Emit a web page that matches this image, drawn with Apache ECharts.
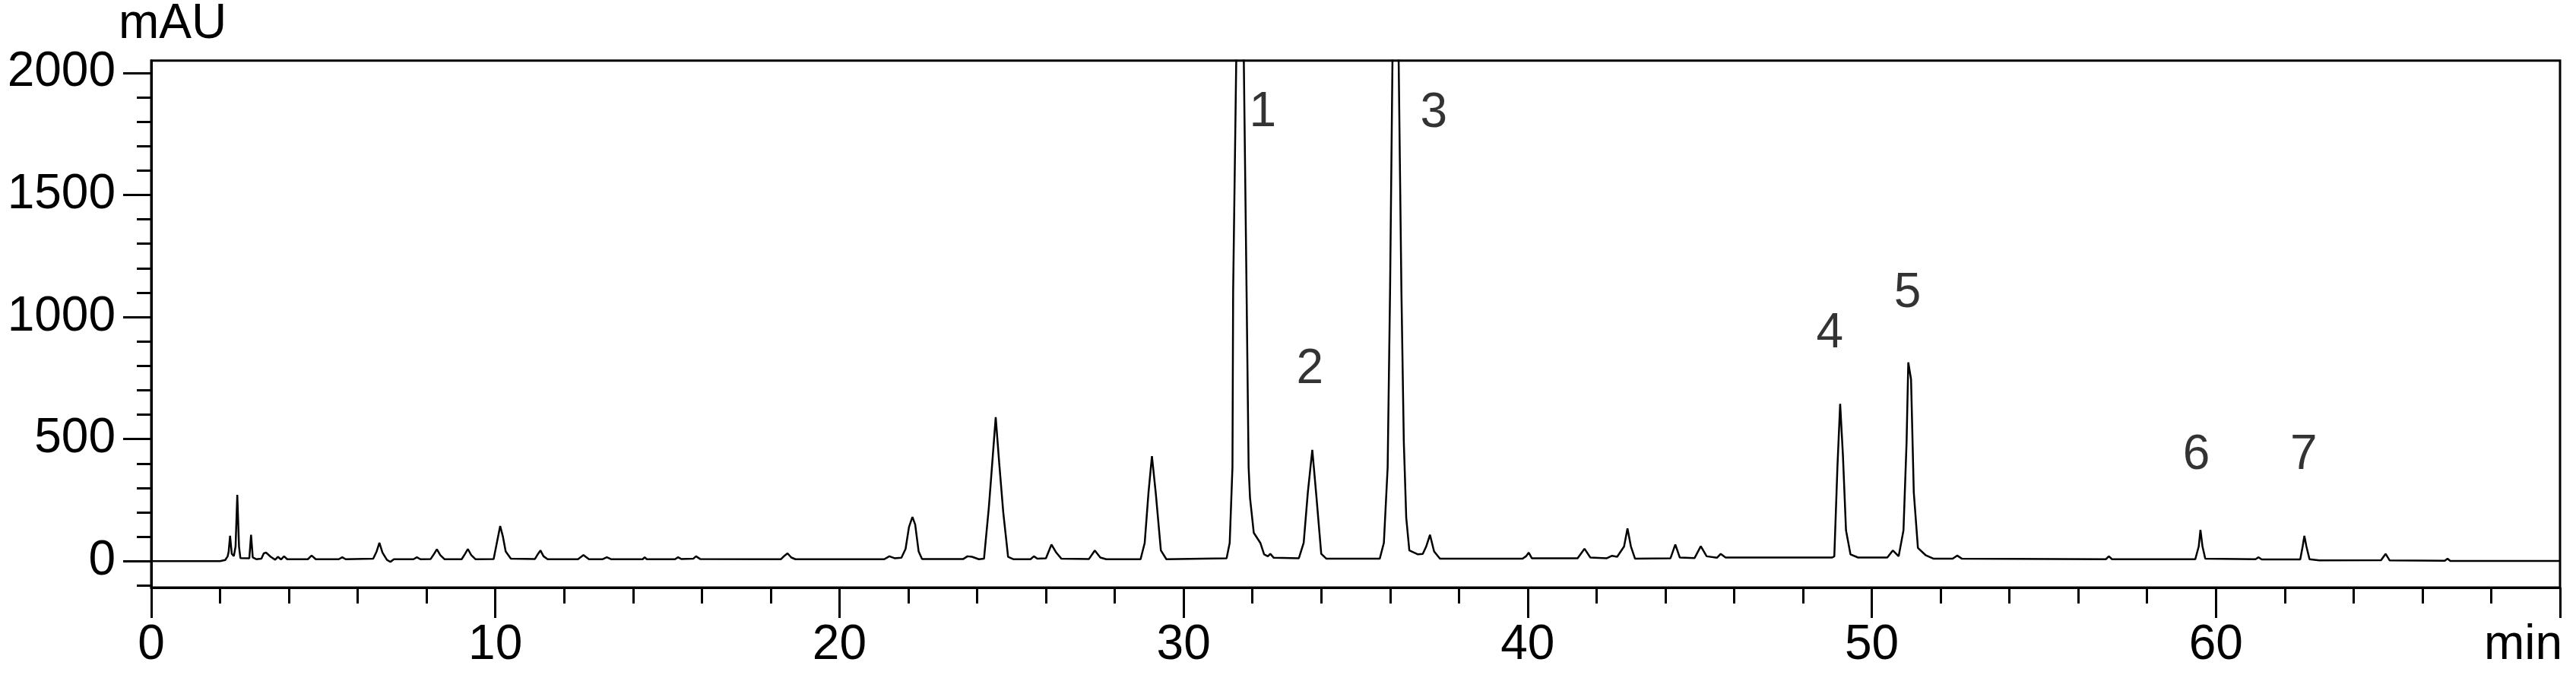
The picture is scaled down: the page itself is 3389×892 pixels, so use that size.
<!DOCTYPE html>
<html>
<head>
<meta charset="utf-8">
<script src="https://cdn.jsdelivr.net/npm/echarts@6/dist/echarts.min.js"></script>
<style>
html,body{margin:0;padding:0;background:#fff;}
#chart{width:3389px;height:892px;}
</style>
</head>
<body>
<div id="chart"></div>
<script>
// Retention time (min) and detector response (mAU)
const retentionTime = [
  0, 2.0, 2.15, 2.22, 2.25, 2.29, 2.34, 2.40, 2.45, 2.50, 2.55, 2.59, 2.85, 2.90, 2.95, 3.05,
  3.20, 3.27, 3.34, 3.47, 3.60, 3.68, 3.77, 3.86, 3.95, 4.55, 4.66, 4.78, 5.45, 5.55, 5.65,
  6.45, 6.55, 6.63, 6.72, 6.85, 6.95, 7.05, 7.62, 7.72, 7.82, 8.12, 8.22, 8.30, 8.40, 8.52,
  9.02, 9.12, 9.20, 9.30, 9.42, 9.95, 10.05, 10.14, 10.22, 10.30, 10.45, 11.15, 11.24, 11.31,
  11.40, 11.52, 12.40, 12.56, 12.72, 13.12, 13.24, 13.36, 14.28, 14.34, 14.40, 15.22, 15.31,
  15.40, 15.75, 15.83, 15.95, 18.30, 18.40, 18.49, 18.60, 18.72, 21.30, 21.45, 21.60, 21.80,
  21.92, 22.02, 22.12, 22.20, 22.30, 22.40, 23.60, 23.72, 23.85, 24.05, 24.20, 24.34, 24.43,
  24.54, 24.64, 24.76, 24.90, 25.05, 25.55, 25.65, 25.75, 26.00, 26.16, 26.30, 26.45, 27.25,
  27.42, 27.58, 27.75, 28.75, 28.87, 28.98, 29.08, 29.19, 29.34, 29.50, 31.25, 31.34, 31.42,
  31.44, 31.53, 31.64, 31.75, 31.83, 31.89, 31.93, 32.04, 32.23, 32.34, 32.45, 32.52, 32.62,
  33.35, 33.49, 33.61, 33.74, 33.85, 34.00, 34.15, 35.70, 35.82, 35.93, 36.00, 36.07, 36.16,
  36.25, 36.33, 36.40, 36.47, 36.56, 36.81, 36.95, 37.05, 37.16, 37.28, 37.45, 39.85, 39.95,
  40.03, 40.12, 41.45, 41.65, 41.82, 42.30, 42.45, 42.60, 42.80, 42.90, 43.00, 43.12, 44.15,
  44.29, 44.42, 44.85, 45.03, 45.20, 45.50, 45.61, 45.75, 48.85, 48.91, 49.00, 49.08, 49.16,
  49.25, 49.38, 49.60, 50.45, 50.61, 50.78, 50.92, 51.01, 51.06, 51.14, 51.22, 51.34, 51.56,
  51.80, 52.35, 52.48, 52.62, 56.80, 56.89, 56.98, 59.40, 59.50, 59.55, 59.61, 59.69, 61.15,
  61.24, 61.33, 62.45, 62.52, 62.57, 62.63, 62.72, 63.00, 64.80, 64.93, 65.05, 66.65, 66.73,
  66.81, 70
];
const absorbance = [
  0, 0, 5, 20, 40, 104, 30, 21, 60, 272, 60, 13, 12, 108, 15, 8,
  10, 32, 35, 18, 6, 18, 7, 20, 8, 8, 23, 8, 8, 16, 8,
  10, 40, 75, 35, 5, -3, 8, 8, 16, 8, 9, 30, 49, 25, 8,
  8, 30, 50, 25, 8, 9, 80, 144, 100, 40, 10, 9, 30, 44,
  20, 8, 8, 25, 8, 8, 16, 8, 8, 16, 8, 8, 16,
  9, 10, 20, 9, 8, 22, 32, 15, 8, 8, 20, 12, 14,
  50, 140, 181, 150, 40, 9, 9, 20, 18, 8, 10, 219, 384,
  590, 405, 199, 18, 8, 8, 20, 10, 12, 68, 35, 10, 9,
  44, 15, 8, 8, 75, 281, 430, 281, 44, 8, 12, 75, 385,
  1106, 2050, 3600, 2050, 1106, 384, 260, 116, 75, 28, 20, 30, 14,
  12, 75, 281, 456, 281, 30, 10, 10, 75, 384, 1106, 2050, 3600,
  2050, 1106, 487, 178, 44, 28, 30, 60, 108, 40, 10, 10, 20,
  35, 12, 12, 51, 15, 12, 22, 18, 60, 134, 60, 10, 12,
  68, 15, 13, 61, 20, 14, 30, 15, 15, 20, 384, 644, 435,
  126, 28, 15, 15, 44, 20, 126, 487, 814, 745, 281, 54, 25,
  10, 10, 23, 10, 8, 20, 8, 8, 60, 128, 60, 10, 8,
  16, 7, 7, 60, 104, 60, 8, 3, 4, 30, 3, 2, 10,
  1, 1
];

// Peak annotations
const peakLabelText = ['1', '2', '3', '4', '5', '6', '7'];
const peakLabelTime = [32.30, 33.67, 37.27, 48.78, 51.04, 59.43, 62.55];
const peakLabelMAU  = [1836, 784, 1834, 932, 1094, 433, 433];

// Axis ticks
const yLabelTicks = [0, 500, 1000, 1500, 2000];
const yMinorTicks = [-100, 100, 200, 300, 400, 600, 700, 800, 900, 1100, 1200, 1300, 1400,
                     1600, 1700, 1800, 1900];
const xMin = 0, xMax = 70, xMajorStep = 10, xMinorStep = 2;
const yMin = -108, yMax = 2050;

const FONT = 'Liberation Sans, Arial, sans-serif';
const lineData = retentionTime.map((t, i) => [t, absorbance[i]]);
const labelData = peakLabelTime.map((t, i) => ({ value: [t, peakLabelMAU[i]], name: peakLabelText[i] }));

const chart = echarts.init(document.getElementById('chart'), null, { renderer: 'canvas' });
chart.setOption({
  animation: false,
  backgroundColor: '#ffffff',
  grid: {
    left: 199, right: 21, top: 75, bottom: 119,
    show: true, borderColor: '#000', borderWidth: 3, backgroundColor: 'transparent'
  },
  xAxis: [
    {
      type: 'value', min: xMin, max: xMax, interval: xMajorStep, position: 'bottom',
      axisLine: { show: true, onZero: false, lineStyle: { color: '#000', width: 3 } },
      axisTick: { show: true, inside: false, length: 40, lineStyle: { color: '#000', width: 3 } },
      axisLabel: {
        show: true, margin: 44, color: '#000', fontFamily: FONT, fontSize: 64, lineHeight: 64,
        formatter: v => (v === xMax ? '' : String(v))
      },
      splitLine: { show: false },
      name: 'min', nameLocation: 'end', nameGap: 3,
      nameTextStyle: { color: '#000', fontFamily: FONT, fontSize: 64, lineHeight: 64,
        align: 'right', verticalAlign: 'top', padding: [44, 0, 0, 0] }
    },
    {
      type: 'value', min: xMin, max: xMax, interval: xMinorStep, position: 'bottom',
      axisLine: { show: false, onZero: false },
      axisTick: { show: true, inside: false, length: 21, lineStyle: { color: '#000', width: 3 } },
      axisLabel: { show: false },
      splitLine: { show: false }
    }
  ],
  yAxis: [
    {
      type: 'value', min: yMin, max: yMax, position: 'left',
      axisLine: { show: true, onZero: false, lineStyle: { color: '#000', width: 3 } },
      axisTick: { show: true, inside: false, length: 37, customValues: yLabelTicks, lineStyle: { color: '#000', width: 3 } },
      axisLabel: { show: true, customValues: yLabelTicks, margin: 47, color: '#000',
        fontFamily: FONT, fontSize: 64, lineHeight: 64, formatter: v => String(v) },
      splitLine: { show: false },
      name: 'mAU', nameLocation: 'end', nameGap: 0,
      nameTextStyle: { color: '#000', fontFamily: FONT, fontSize: 64, lineHeight: 64,
        align: 'center', verticalAlign: 'bottom', padding: [0, 0, 0, 56] }
    },
    {
      type: 'value', min: yMin, max: yMax, position: 'left',
      axisLine: { show: false, onZero: false },
      axisTick: { show: true, inside: false, length: 19, customValues: yMinorTicks, lineStyle: { color: '#000', width: 3 } },
      axisLabel: { show: false },
      splitLine: { show: false }
    }
  ],
  series: [
    {
      type: 'line', xAxisIndex: 0, yAxisIndex: 0,
      data: lineData, showSymbol: false, symbol: 'none', smooth: false, clip: true,
      lineStyle: { color: '#000', width: 2.5 }
    },
    {
      type: 'scatter', xAxisIndex: 0, yAxisIndex: 0,
      data: labelData, symbolSize: 1, itemStyle: { color: 'rgba(0,0,0,0)' },
      label: {
        show: true, position: 'inside', formatter: p => p.name,
        color: '#000', fontFamily: FONT, fontSize: 64, lineHeight: 64,
        align: 'center', verticalAlign: 'middle'
      }
    }
  ]
});
</script>
</body>
</html>
